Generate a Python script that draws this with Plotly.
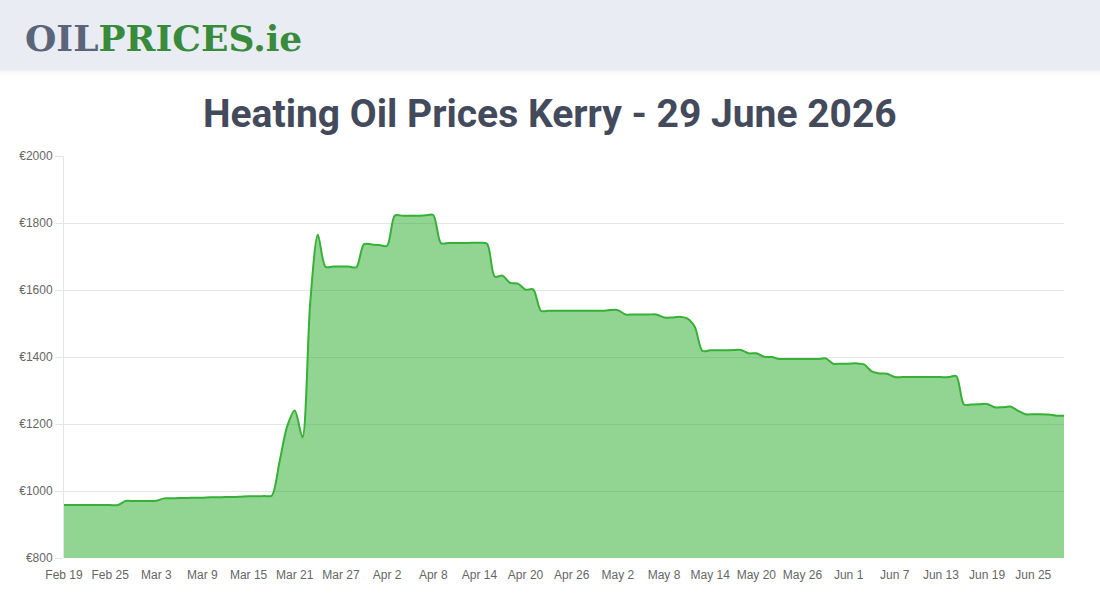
import pandas as pd
import plotly.graph_objects as go

# ---- data ----
start_date = "2026-02-19"
end_date = "2026-06-29"
prices = [
    958, 958, 958, 958, 958, 958, 958, 958,
    970, 970, 970, 970, 971,
    978, 978, 979, 979, 980, 980, 981, 981, 982, 982, 983, 984, 984, 985, 986,
    1085, 1192, 1240, 1160, 1560, 1765,
    1669, 1670, 1670, 1670, 1668,
    1737, 1736, 1734, 1732,
    1822, 1822, 1822, 1822, 1823, 1824,
    1740, 1740, 1740, 1740, 1741, 1741, 1738,
    1640, 1643, 1621, 1619, 1601, 1602,
    1538, 1538, 1538, 1538, 1538, 1538, 1538, 1538, 1538, 1540, 1540,
    1527, 1527, 1527, 1527, 1527,
    1518, 1518, 1520,
    1515, 1490, 1418,
    1420, 1420, 1420, 1421, 1421,
    1411, 1411, 1401, 1400, 1394,
    1394, 1394, 1394, 1394, 1394, 1396,
    1380, 1380, 1380, 1381,
    1378, 1357, 1351, 1350,
    1340, 1340, 1340, 1340, 1340, 1340, 1340, 1340, 1343,
    1258, 1258, 1259, 1260,
    1250, 1250, 1252, 1240,
    1229, 1229, 1229, 1228, 1225, 1225,
]
tick_labels = ["Feb 19", "Feb 25", "Mar 3", "Mar 9", "Mar 15", "Mar 21", "Mar 27",
               "Apr 2", "Apr 8", "Apr 14", "Apr 20", "Apr 26", "May 2", "May 8",
               "May 14", "May 20", "May 26", "Jun 1", "Jun 7", "Jun 13", "Jun 19", "Jun 25"]
y_ticks = [800, 1000, 1200, 1400, 1600, 1800, 2000]
title_text = "Heating Oil Prices Kerry - 29 June 2026"

dates = pd.date_range(start_date, end_date, freq="D")
assert len(dates) == len(prices)
tick_dates = pd.date_range(start_date, periods=len(tick_labels), freq="6D")

# ---- layout geometry (pixels) ----
W, H = 1100, 600
L, R, T, B = 64, 36, 156, 42
pw, ph = W - L - R, H - T - B


def px_x(px):
    return (px - L) / pw


def px_y(py):
    return (H - B - py) / ph


fig = go.Figure()
fig.add_trace(go.Scatter(
    x=dates, y=prices, mode="lines",
    line=dict(color="rgb(55,176,55)", width=2, shape="spline", smoothing=0.8),
    fill="tozeroy", fillcolor="rgba(37,171,37,0.5)",
    hoverinfo="skip", showlegend=False,
))

shapes = [
    dict(type="rect", xref="paper", yref="paper", x0=px_x(0), x1=px_x(W),
         y0=px_y(70), y1=px_y(0), fillcolor="#e9ecf3", line=dict(width=0), layer="below"),
]
for i, op in enumerate([0.10, 0.07, 0.05, 0.03, 0.02, 0.01]):
    shapes.append(dict(type="rect", xref="paper", yref="paper", x0=px_x(0), x1=px_x(W),
                       y0=px_y(71 + i), y1=px_y(70 + i),
                       fillcolor=f"rgba(120,130,150,{op})", line=dict(width=0), layer="below"))

annotations = [
    dict(xref="paper", yref="paper", x=px_x(23), y=px_y(38), xanchor="left", yanchor="middle",
         text="<b><span style='color:#5b6479'>OIL</span><span style='color:#378b3b'>PRICES.ie</span></b>",
         showarrow=False, font=dict(family="DejaVu Serif", size=36)),
    dict(xref="paper", yref="paper", x=px_x(550), y=px_y(114), xanchor="center", yanchor="middle",
         text="<b>" + title_text + "</b>", showarrow=False,
         font=dict(family="Roboto", size=39, color="#434a5b")),
]

fig.update_layout(
    width=W, height=H, autosize=False,
    margin=dict(l=L, r=R, t=T, b=B, pad=0),
    paper_bgcolor="white", plot_bgcolor="white",
    shapes=shapes, annotations=annotations,
    xaxis=dict(
        type="date", range=[dates[0], dates[-1]],
        tickvals=tick_dates, ticktext=tick_labels,
        showgrid=False, zeroline=False, showline=False,
        ticks="outside", ticklen=6, tickcolor="rgba(0,0,0,0)",
        tickfont=dict(family="Liberation Sans, Arial", size=12, color="#666666"),
    ),
    yaxis=dict(
        range=[800, 2000], tickvals=y_ticks, ticktext=[f"€{v}" for v in y_ticks],
        showgrid=True, gridcolor="rgba(0,0,0,0.1)", gridwidth=1,
        zeroline=False, showline=True, linecolor="rgba(0,0,0,0.1)", linewidth=1,
        ticks="outside", ticklen=8, tickcolor="rgba(0,0,0,0.1)",
        tickfont=dict(family="Liberation Sans, Arial", size=12, color="#666666"),
    ),
)

fig.write_html("out.html")
